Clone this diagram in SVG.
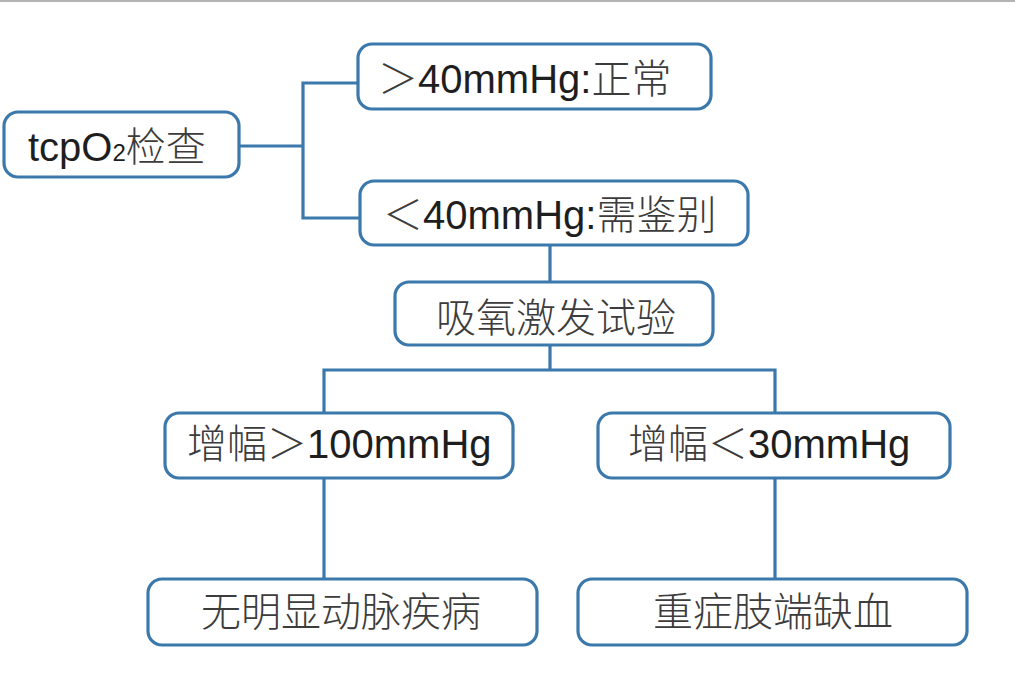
<svg xmlns="http://www.w3.org/2000/svg" width="1015" height="686" viewBox="0 0 1015 686">
<style>
.box{fill:#ffffff;stroke:#3b78ab;stroke-width:3.2}
.conn{fill:none;stroke:#3b78ab;stroke-width:3.2;stroke-linecap:square}
.t{font-family:"Liberation Sans","Noto Sans CJK SC",sans-serif;font-size:40px;fill:#1e1e1e}
.c{font-family:"Noto Sans CJK SC",sans-serif;font-weight:300;fill:#3c3c3c}
</style>
<rect x="0" y="0" width="1015" height="686" fill="#ffffff"/>
<line x1="0" y1="1" x2="1015" y2="1" stroke="#b4b4b4" stroke-width="2"/>
<g id="connectors">
<path class="conn" d="M239 146 H303 M303 83 V218 M303 83 H357 M303 218 H359"/>
<path class="conn" d="M550 246 V281"/>
<path class="conn" d="M550 346 V370 M324 370 H775 M324 370 V412 M775 370 V412"/>
<path class="conn" d="M324 479 V578 M775 479 V578"/>
</g>
<g id="n-tcpo2">
<rect class="box" x="4" y="112" width="235" height="65" rx="14"/>
<text class="t" x="28" y="161">tcpO<tspan font-size="24">2</tspan><tspan class="c">检查</tspan></text>
</g>
<g id="n-gt40">
<rect class="box" x="358" y="44" width="353" height="65" rx="14"/>
<text class="t" x="378" y="93"><tspan class="c">＞</tspan>40mmHg:<tspan class="c">正常</tspan></text>
</g>
<g id="n-lt40">
<rect class="box" x="360" y="181" width="388" height="64" rx="14"/>
<text class="t" x="383" y="229"><tspan class="c">＜</tspan>40mmHg:<tspan class="c">需鉴别</tspan></text>
</g>
<g id="n-test">
<rect class="box" x="395" y="282" width="318" height="63" rx="14"/>
<text class="t c" x="556" y="332" text-anchor="middle">吸氧激发试验</text>
</g>
<g id="n-inc100">
<rect class="box" x="165" y="413" width="348" height="65" rx="14"/>
<text class="t" x="187" y="458"><tspan class="c">增幅＞</tspan>100mmHg</text>
</g>
<g id="n-inc30">
<rect class="box" x="598" y="413" width="352" height="65" rx="14"/>
<text class="t" x="628" y="458"><tspan class="c">增幅＜</tspan>30mmHg</text>
</g>
<g id="n-none">
<rect class="box" x="148" y="579" width="389" height="66" rx="14"/>
<text class="t c" x="341" y="626" text-anchor="middle">无明显动脉疾病</text>
</g>
<g id="n-cli">
<rect class="box" x="578" y="579" width="389" height="66" rx="14"/>
<text class="t c" x="773" y="626" text-anchor="middle">重症肢端缺血</text>
</g>
</svg>
